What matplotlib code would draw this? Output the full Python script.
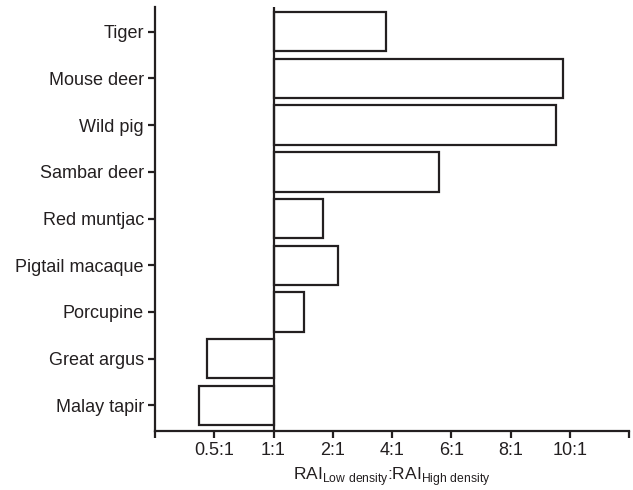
import numpy as np
import matplotlib.pyplot as plt

plt.rcParams['font.family'] = ['Liberation Sans', 'DejaVu Sans']
plt.rcParams['mathtext.fontset'] = 'custom'
plt.rcParams['mathtext.rm'] = 'Liberation Sans'

# species from top to bottom
species = ['Tiger', 'Mouse deer', 'Wild pig', 'Sambar deer', 'Red muntjac',
           'Pigtail macaque', 'Porcupine', 'Great argus', 'Malay tapir']
# bar ends in axis units (1:1 = 0, one unit per tick)
ratio_pos = [1.90, 4.88, 4.76, 2.79, 0.83, 1.08, 0.52, -1.13, -1.26]
tick_pos = [-2, -1, 0, 1, 2, 3, 4, 5, 6]
tick_labels = ['', '0.5:1', '1:1', '2:1', '4:1', '6:1', '8:1', '10:1', '']

ink = '#231f20'

fig = plt.figure(figsize=(6.33, 4.9), dpi=100)
ax = fig.add_axes([0.2449, 0.1204, 0.7488, 0.8653])

y = np.arange(len(species))[::-1]
ax.barh(y, ratio_pos, height=0.845, left=0, color='white',
        edgecolor=ink, linewidth=1.6)
ax.axvline(0, color=ink, linewidth=1.6, zorder=3)

ax.set_xlim(-2, 6)
ax.set_ylim(-0.55, 8.53)
ax.set_yticks(y)
ax.set_yticklabels(species, fontsize=13)
ax.set_xticks(tick_pos)
ax.set_xticklabels(tick_labels, fontsize=13)

for s in ['top', 'right']:
    ax.spines[s].set_visible(False)
for s in ['left', 'bottom']:
    ax.spines[s].set_linewidth(1.6)
    ax.spines[s].set_color(ink)
ax.tick_params(axis='both', direction='out', length=5, width=1.6,
               color=ink, labelcolor=ink, pad=3)

ax.set_xlabel(r'RAI$_{\mathrm{Low\ density}}$:RAI$_{\mathrm{High\ density}}$',
              fontsize=12.5, color=ink, labelpad=4)

fig.savefig('out.png', dpi=100)
